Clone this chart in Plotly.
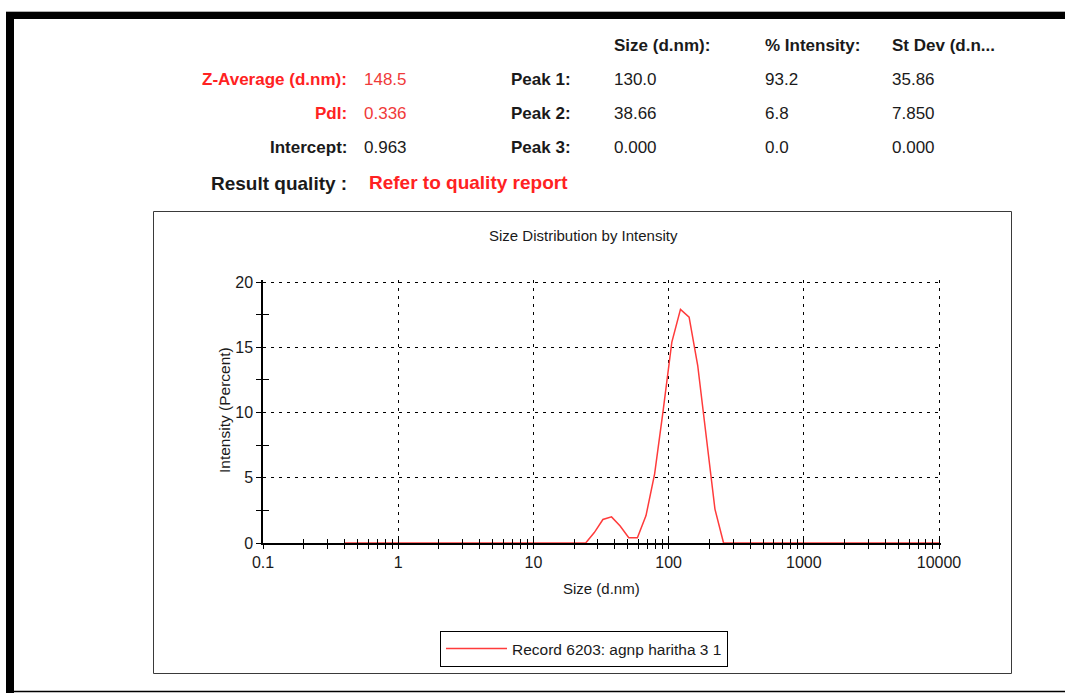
import plotly.graph_objects as go

# Size classes (d.nm) of the distribution and the intensity (%) in each class
sizes = [0.4, 0.4632, 0.5365, 0.6213, 0.7195, 0.8332, 0.9649, 1.117, 1.294, 1.499,
         1.736, 2.010, 2.328, 2.696, 3.122, 3.615, 4.187, 4.849, 5.615, 6.503,
         7.531, 8.721, 10.10, 11.70, 13.54, 15.69, 18.17, 21.04, 24.36, 28.21,
         32.67, 37.84, 43.82, 50.75, 58.77, 68.06, 78.82, 91.28, 105.7, 122.4,
         141.8, 164.2, 190.1, 220.2, 255.0, 295.3, 342.0, 396.1, 458.7, 531.2,
         615.1, 712.4, 825.0, 955.4, 1106, 1281, 1484, 1718, 1990, 2305,
         2669, 3091, 3580, 4145, 4801, 5560, 6439, 7456, 8635, 10000]
intensity = [0] * 29 + [0.8, 1.8, 2.0, 1.3, 0.4, 0.4, 2.1, 5.3, 10.2, 15.4,
                        17.9, 17.3, 13.6, 8.0, 2.6] + [0] * 26

record_name = "Record 6203: agnp haritha 3 1"

# Result summary table
column_headers = ["Size (d.nm):", "% Intensity:", "St Dev (d.n..."]
peak_labels = ["Peak 1:", "Peak 2:", "Peak 3:"]
peak_size = ["130.0", "38.66", "0.000"]
peak_intensity = ["93.2", "6.8", "0.0"]
peak_stdev = ["35.86", "7.850", "0.000"]
summary_labels = ["Z-Average (d.nm):", "PdI:", "Intercept:"]
summary_values = ["148.5", "0.336", "0.963"]
summary_is_red = [True, True, False]

x_tick_vals = [0.1, 1, 10, 100, 1000, 10000]
x_tick_text = ["0.1", "1", "10", "100", "1000", "10000"]

FONT = "Liberation Sans, Arial, sans-serif"
RED = "#ff2222"
RED_VAL = "#f03a3a"
INK = "#1a1a1a"

W, H = 1065, 693
# pixel positions of the axis frame: 0.1 .. 10000 and 0 .. 20
X_LO_PX, X_HI_PX, Y_LO_PX, Y_HI_PX = 263, 939, 543, 282
EDGE = 2  # a little room so the outer grid lines at 20 and 10000 get drawn
PL, PR, PT, PB = X_LO_PX, X_HI_PX + EDGE, Y_HI_PX - EDGE, Y_LO_PX
X_RANGE = [-1, 4 + EDGE * 5 / (X_HI_PX - X_LO_PX)]
Y_RANGE = [0, 20 + EDGE * 20 / (Y_LO_PX - Y_HI_PX)]


def xp(px):
    return (px - PL) / (PR - PL)


def yp(py):
    return (PB - py) / (PB - PT)


def label(px, py, s, size, color, bold=False, anchor="left", angle=0):
    return dict(xref="paper", yref="paper", x=xp(px), y=yp(py),
                text=f"<b>{s}</b>" if bold else s, showarrow=False,
                xanchor=anchor, yanchor="middle", textangle=angle,
                font=dict(size=size, color=color, family=FONT))


annotations = []
col_x = [612, 763, 890]
row_y = [79, 113, 148]
for cx, head in zip(col_x, column_headers):
    annotations.append(label(cx, 45, head, 17, INK, bold=True))
for i, ry in enumerate(row_y):
    lab_col = RED if summary_is_red[i] else INK
    val_col = RED_VAL if summary_is_red[i] else INK
    annotations.append(label(349, ry, summary_labels[i], 17, lab_col, bold=True, anchor="right"))
    annotations.append(label(362, ry, summary_values[i], 17, val_col))
    annotations.append(label(573, ry, peak_labels[i], 17, INK, bold=True, anchor="right"))
    for cx, col in zip(col_x, [peak_size, peak_intensity, peak_stdev]):
        annotations.append(label(cx, ry, col[i], 17, INK))
annotations.append(label(209, 183, "Result quality :", 19, INK, bold=True))
annotations.append(label(367, 182, "Refer to quality report", 19, RED, bold=True))

annotations.append(label(583, 235, "Size Distribution by Intensity", 15, INK, anchor="center"))
annotations.append(label(601, 588, "Size (d.nm)", 15, INK, anchor="center"))
annotations.append(label(224, 410, "Intensity (Percent)", 15.5, INK, anchor="center", angle=-90))

shapes = [
    # page frame
    dict(type="rect", xref="paper", yref="paper", x0=xp(6), x1=xp(1070), y0=yp(19), y1=yp(12),
         fillcolor="black", line=dict(width=0)),
    dict(type="line", xref="paper", yref="paper", x0=xp(6), x1=xp(1070), y0=yp(11.5), y1=yp(11.5),
         line=dict(color="#b0b0b0", width=1)),
    dict(type="rect", xref="paper", yref="paper", x0=xp(6), x1=xp(14), y0=yp(700), y1=yp(12),
         fillcolor="black", line=dict(width=0)),
    dict(type="line", xref="paper", yref="paper", x0=xp(14), x1=xp(1070), y0=yp(691.5), y1=yp(691.5),
         line=dict(color="black", width=1.5)),
    # chart panel
    dict(type="rect", xref="paper", yref="paper", x0=xp(153.5), x1=xp(1011.5), y0=yp(673.5), y1=yp(211.5),
         line=dict(color="#3a3a3a", width=1)),
]

fig = go.Figure()
fig.add_trace(go.Scatter(
    x=sizes, y=intensity, mode="lines", name=record_name,
    line=dict(color="#ff3b3b", width=1.5), cliponaxis=False,
))
# empty trace that keeps the inner-tick overlay axes on the page
fig.add_trace(go.Scatter(x=[], y=[], xaxis="x2", yaxis="y2", showlegend=False,
                         hoverinfo="skip"))

grid = dict(showgrid=True, gridcolor="black", gridwidth=1, griddash="3px,5px")
tick_common = dict(tickcolor="black", tickwidth=1, linecolor="black", linewidth=1.5)

fig.update_layout(
    width=W, height=H,
    margin=dict(l=PL, r=W - PR, t=PT, b=H - PB, pad=0),
    paper_bgcolor="white", plot_bgcolor="white",
    font=dict(family=FONT, size=16, color=INK),
    showlegend=True,
    legend=dict(x=xp(440), y=yp(631), xanchor="left", yanchor="top",
                bordercolor="black", borderwidth=1, bgcolor="white",
                font=dict(size=15.5, color=INK, family=FONT),
                itemwidth=61, tracegroupgap=0),
    xaxis=dict(type="log", range=X_RANGE, showline=True, zeroline=False,
               tickmode="array", tickvals=x_tick_vals, ticktext=x_tick_text,
               ticks="outside", ticklen=4, tickfont=dict(size=16, color=INK),
               minor=dict(dtick="D1", ticks="outside", ticklen=4,
                          tickcolor="black", tickwidth=1, showgrid=False),
               **grid, **tick_common),
    xaxis2=dict(type="log", range=X_RANGE, overlaying="x", anchor="y", side="bottom",
                showline=False, showgrid=False, zeroline=False, showticklabels=False,
                tickmode="array", tickvals=x_tick_vals, ticks="inside", ticklen=4,
                tickcolor="black", tickwidth=1,
                minor=dict(dtick="D1", ticks="inside", ticklen=4,
                           tickcolor="black", tickwidth=1, showgrid=False)),
    yaxis=dict(range=Y_RANGE, showline=True, zeroline=False,
               tickmode="linear", tick0=0, dtick=5, ticks="outside", ticklen=5,
               tickfont=dict(size=16, color=INK),
               minor=dict(tick0=0, dtick=2.5, ticks="outside", ticklen=5,
                          tickcolor="black", showgrid=False),
               **grid, **tick_common),
    yaxis2=dict(range=Y_RANGE, overlaying="y", anchor="x", side="left",
                showline=False, showgrid=False, zeroline=False, showticklabels=False,
                tickmode="linear", tick0=2.5, dtick=5, ticks="inside", ticklen=6,
                tickcolor="black"),
    annotations=annotations,
    shapes=shapes,
)

fig.write_html("out.html", config={"displayModeBar": False})
